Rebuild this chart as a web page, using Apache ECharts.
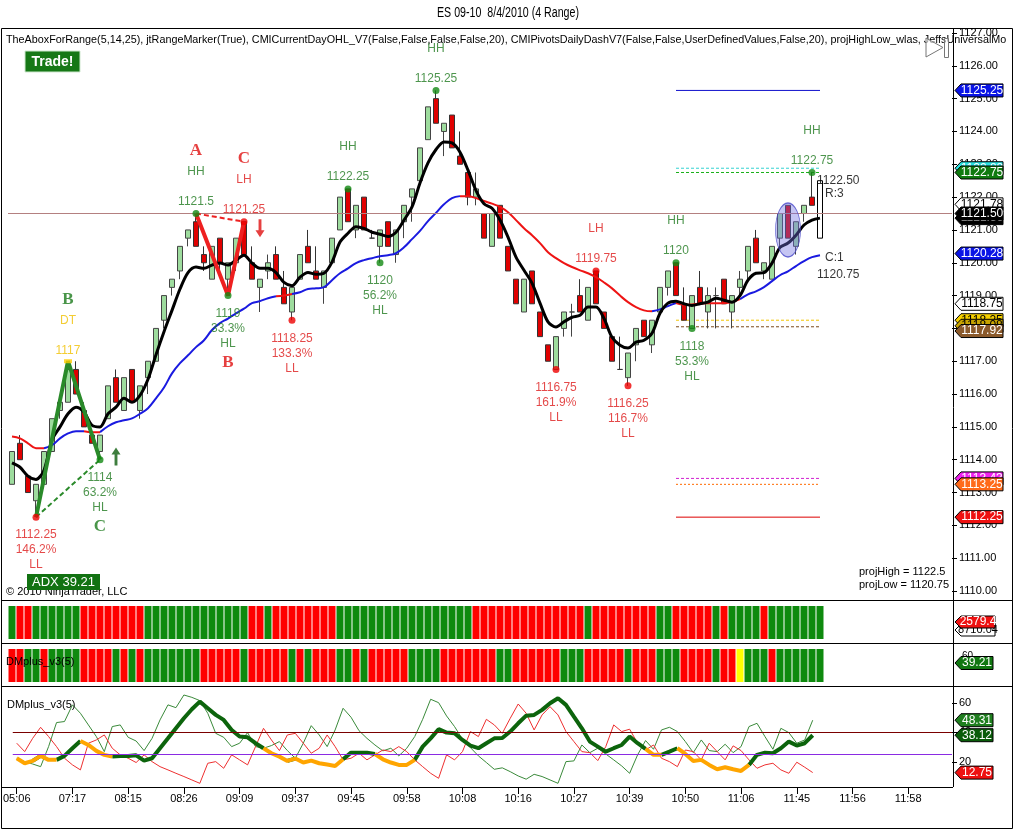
<!DOCTYPE html>
<html>
<head>
    <meta charset="utf-8">
    <title>ES 09-10 8/4/2010 (4 Range)</title>
    <script src="https://cdn.jsdelivr.net/npm/echarts@6.0.0/dist/echarts.min.js"></script>
    <style>
        html, body { margin: 0; padding: 0; background: #fff; }
        #chart { width: 1016px; height: 831px; }
    </style>
</head>
<body>
<div id="chart"></div>
<script type="text/javascript">
    // ---------- values ----------
    var timeLabels = ['05:06', '07:17', '08:15', '08:26', '09:09', '09:37', '09:45', '09:58', '10:08',
        '10:16', '10:27', '10:39', '10:50', '11:06', '11:45', '11:56', '11:58'];

    // range bars: [open, close, low, high]
    var candles = [
        [1113.25, 1114.25, 1113.25, 1114.25], [1114.5, 1114.0, 1114.0, 1114.75], [1113.5, 1113.0, 1113.0, 1113.5],
        [1112.75, 1113.25, 1112.25, 1113.25], [1113.25, 1114.25, 1113.25, 1114.25], [1114.25, 1115.25, 1114.25, 1115.25],
        [1115.5, 1115.75, 1115.25, 1115.75], [1115.75, 1116.75, 1115.75, 1117.0], [1116.75, 1116.0, 1116.0, 1117.0],
        [1115.5, 1115.0, 1115.0, 1115.75], [1114.75, 1114.5, 1114.5, 1114.75], [1114.25, 1114.75, 1114.0, 1114.75],
        [1115.25, 1116.25, 1115.25, 1116.25], [1116.5, 1115.75, 1115.75, 1116.75], [1115.5, 1116.5, 1115.5, 1116.5],
        [1116.75, 1115.75, 1115.75, 1116.75], [1115.5, 1116.25, 1115.25, 1116.25], [1116.5, 1117.0, 1116.0, 1117.0],
        [1117.0, 1118.0, 1117.0, 1118.0], [1118.25, 1119.0, 1118.0, 1119.0], [1119.25, 1119.5, 1119.0, 1119.5],
        [1119.75, 1120.5, 1119.5, 1120.5], [1120.75, 1121.0, 1120.5, 1121.0], [1121.25, 1120.5, 1120.5, 1121.5],
        [1120.25, 1120.0, 1119.75, 1120.5], [1119.5, 1120.5, 1119.5, 1120.5], [1120.75, 1120.0, 1119.75, 1120.75],
        [1119.5, 1120.0, 1119.0, 1120.0], [1120.0, 1120.75, 1119.75, 1120.75], [1121.25, 1120.25, 1120.25, 1121.25],
        [1120.0, 1119.5, 1119.5, 1120.5], [1119.25, 1119.5, 1118.5, 1119.5], [1119.75, 1120.0, 1119.5, 1120.25],
        [1120.25, 1119.5, 1119.5, 1120.5], [1119.25, 1118.75, 1118.75, 1119.75], [1118.5, 1119.25, 1118.25, 1119.25],
        [1119.5, 1120.25, 1119.5, 1120.25], [1120.5, 1120.0, 1120.0, 1121.0], [1119.75, 1119.5, 1119.5, 1120.5],
        [1119.25, 1119.75, 1118.75, 1119.75], [1120.0, 1120.75, 1120.0, 1120.75], [1121.0, 1122.0, 1121.0, 1122.0],
        [1122.25, 1121.25, 1121.25, 1122.25], [1121.0, 1121.75, 1120.75, 1121.75], [1122.0, 1121.0, 1121.0, 1122.0],
        [1120.75, 1120.75, 1120.75, 1121.0], [1120.5, 1121.0, 1120.0, 1121.0], [1121.25, 1120.5, 1120.5, 1121.25],
        [1120.25, 1121.0, 1120.0, 1121.0], [1121.25, 1121.75, 1120.75, 1121.75], [1122.0, 1122.25, 1121.25, 1122.25],
        [1122.5, 1123.5, 1122.5, 1123.5], [1123.75, 1124.75, 1123.75, 1124.75], [1125.0, 1124.25, 1124.25, 1125.25],
        [1124.0, 1124.25, 1123.25, 1124.25], [1124.5, 1123.5, 1123.5, 1124.5], [1123.25, 1123.0, 1123.0, 1124.0],
        [1122.75, 1122.0, 1121.75, 1122.75], [1122.0, 1122.25, 1121.75, 1122.75], [1121.5, 1120.75, 1120.75, 1121.5],
        [1120.5, 1121.5, 1120.5, 1121.5], [1121.75, 1120.75, 1120.75, 1121.75], [1120.5, 1119.75, 1119.75, 1120.5],
        [1119.5, 1118.75, 1118.75, 1119.5], [1118.5, 1119.5, 1118.5, 1119.5], [1119.75, 1118.75, 1118.75, 1119.75],
        [1118.5, 1117.75, 1117.75, 1118.5], [1117.5, 1117.0, 1117.0, 1117.5], [1116.75, 1117.75, 1116.75, 1117.75],
        [1118.0, 1118.5, 1117.75, 1118.5], [1118.5, 1118.5, 1117.75, 1118.75], [1119.0, 1118.5, 1118.5, 1119.5],
        [1118.25, 1119.25, 1118.25, 1119.25], [1119.75, 1118.75, 1118.75, 1119.75], [1118.5, 1118.0, 1118.0, 1118.5],
        [1117.75, 1117.0, 1117.0, 1117.75], [1116.75, 1116.75, 1116.75, 1117.75], [1116.5, 1117.25, 1116.25, 1117.25],
        [1117.5, 1118.0, 1117.0, 1118.0], [1118.25, 1117.75, 1117.75, 1118.25], [1117.5, 1118.25, 1117.25, 1118.25],
        [1118.5, 1119.25, 1118.5, 1119.25], [1119.25, 1119.75, 1119.0, 1119.75], [1120.0, 1119.0, 1119.0, 1120.0],
        [1118.75, 1118.25, 1118.25, 1119.25], [1118.0, 1119.0, 1118.0, 1119.0], [1119.25, 1118.75, 1118.75, 1119.75],
        [1118.5, 1119.0, 1118.0, 1119.25], [1119.0, 1119.0, 1118.0, 1119.25], [1119.5, 1118.75, 1118.75, 1119.5],
        [1118.5, 1119.0, 1118.0, 1119.0], [1119.25, 1119.5, 1119.0, 1119.75], [1119.75, 1120.5, 1119.5, 1120.5],
        [1120.75, 1120.0, 1120.0, 1121.0], [1119.75, 1120.0, 1119.5, 1120.0], [1119.5, 1120.5, 1119.5, 1120.5],
        [1120.75, 1121.5, 1120.5, 1121.5], [1121.75, 1120.75, 1120.75, 1121.75], [1120.5, 1121.25, 1120.25, 1121.25],
        [1121.5, 1121.75, 1121.25, 1121.75], [1122.0, 1121.75, 1121.75, 1122.75], [1120.75, 1122.5, 1120.75, 1122.5]
    ];

    var fastMA = [1113.9, 1113.77, 1113.5, 1113.4, 1113.68, 1114.6, 1115.0, 1115.4, 1115.6, 1115.45,
        1115.05, 1115.0, 1115.4, 1115.6, 1115.87, 1115.75, 1115.96, 1116.45, 1117.2, 1117.9,
        1118.55, 1119.2, 1119.7, 1119.87, 1119.83, 1119.93, 1119.99, 1119.93, 1120.08, 1120.23,
        1119.99, 1119.83, 1119.83, 1119.7, 1119.4, 1119.3, 1119.56, 1119.7, 1119.65, 1119.68,
        1120.02, 1120.63, 1120.9, 1121.1, 1121.05, 1120.93, 1120.87, 1120.8, 1120.93, 1121.3,
        1121.7, 1122.43, 1123.04, 1123.45, 1123.68, 1123.65, 1123.37, 1122.82, 1122.2, 1121.8,
        1121.66, 1121.3, 1120.78, 1120.17, 1119.77, 1119.38, 1118.77, 1118.2, 1118.04, 1118.2,
        1118.34, 1118.4, 1118.65, 1118.65, 1118.3, 1117.73, 1117.49, 1117.4, 1117.58, 1117.64,
        1117.85, 1118.46, 1118.77, 1118.83, 1118.75, 1118.7, 1118.75, 1118.8, 1118.92, 1118.86,
        1118.8, 1119.0, 1119.47, 1119.68, 1119.7, 1119.99, 1120.47, 1120.6, 1120.84, 1121.15,
        1121.3, 1121.36];

    var slowMA = [1114.71, 1114.65, 1114.5, 1114.35, 1114.35, 1114.44, 1114.65, 1114.8, 1114.87, 1114.87,
        1114.84, 1114.84, 1115.02, 1115.14, 1115.2, 1115.26, 1115.4, 1115.57, 1115.87, 1116.2,
        1116.63, 1116.94, 1117.18, 1117.43, 1117.64, 1117.95, 1118.16, 1118.3, 1118.46, 1118.6,
        1118.77, 1118.83, 1118.92, 1118.98, 1119.0, 1119.05, 1119.1, 1119.2, 1119.22, 1119.26,
        1119.47, 1119.68, 1119.83, 1119.99, 1120.08, 1120.14, 1120.2, 1120.23, 1120.29, 1120.47,
        1120.72, 1120.97, 1121.27, 1121.52, 1121.78, 1121.97, 1122.03, 1122.03, 1121.97, 1121.88,
        1121.8, 1121.7, 1121.54, 1121.3, 1121.05, 1120.84, 1120.6, 1120.32, 1120.14, 1119.99,
        1119.87, 1119.77, 1119.68, 1119.56, 1119.4, 1119.22, 1119.0, 1118.8, 1118.65, 1118.55,
        1118.52, 1118.58, 1118.68, 1118.77, 1118.72, 1118.73, 1118.76, 1118.77, 1118.77, 1118.77,
        1118.8, 1118.89, 1119.04, 1119.13, 1119.26, 1119.44, 1119.62, 1119.74, 1119.9, 1120.05,
        1120.17, 1120.23];
    // bar ranges where the slow average is painted red instead of blue
    var slowRedSpans = [[0, 4], [9, 11], [33, 35], [56, 80], [83, 91]];

    // swing points
    var pivotIdx = [3, 7, 11, 23, 27, 29, 35, 42, 46, 53, 68, 73, 77, 83, 85, 100];
    var pivotPrice = [1112.25, 1117, 1114, 1121.5, 1119, 1121.25, 1118.25, 1122.25, 1120, 1125.25,
        1116.75, 1119.75, 1116.25, 1120, 1118, 1122.75];
    var pivotPct = ['146.2%', '', '63.2%', '', '33.3%', '', '133.3%', '', '56.2%', '', '161.9%', '',
        '116.7%', '', '53.3%', ''];
    var pivotTag = ['LL', 'DT', 'HL', 'HH', 'HL', 'LH', 'LL', 'HH', 'HL', 'HH', 'LL', 'LH', 'LL', 'HH', 'HL', 'HH'];
    var pivotLetter = ['', 'B', 'C', 'A', 'B', 'C', '', '', '', '', '', '', '', '', '', ''];

    // ABC patterns
    var abcUpIdx = [3, 7, 11], abcUpPx = [1112.25, 1117, 1114];
    var abcDnIdx = [23, 27, 29], abcDnPx = [1121.5, 1119, 1121.25];

    // entry arrows
    var signalIdx = [13, 31], signalPx = [1114.1, 1121.05], signalDir = ['up', 'down'];

    // ellipse marker
    var focusBar = 96.5, focusPx = 1121.0;

    // daily levels drawn on the right
    var levelPrices = [1125.25, 1122.88, 1122.75, 1118.25, 1118.05, 1113.43, 1113.25, 1112.25];
    var levelFrom = 83, levelTo = 101;

    // price tags on the right axis
    var priceFlags = [1125.25, 1122.88, 1122.75, 1121.78, 1121.36, 1121.50, 1120.28, 1118.75, 1118.25,
        1118.08, 1117.92, 1113.43, 1113.25, 1112.25];

    var projHigh = 1122.5, projLow = 1120.75;

    // colour bars of the two middle panels (g = green, r = red, y = yellow)
    var trendBars = ('grrggggggrrrrrrrrgggggggggggggrrgrrrrrrrrgggggggggggggggggrrrrrrrrrrrrrrgrrrrrrrrggrrrrrgrggggrggggggg').split('');
    var dmBars = ('rrggrggggrrrrgrgrgggggggrrrrrgrrrrrgrgrrrggrgrrrrrggggrrrrrrrggrrrrrrgggrrrrrgrrrgggrrrrgrrygggrgggggg').split('');

    // DMplus_v3(5)
    var adx = [22.5, 19.1, 20.7, 24.1, 21.4, 21.4, 24.1, 29.3, 34.2, 31.5, 27.5, 24.8, 23.6, 24.1, 24.1, 24.5,
        20.9, 22.5, 29.3, 36.0, 42.8, 49.6, 55.7, 60.9, 56.4, 51.9, 48.5, 41.7, 37.2, 36.7, 32.7, 29.3,
        25.9, 23.6, 20.7, 22.3, 19.6, 20.9, 19.1, 18.2, 17.3, 21.8, 26.3, 26.3, 26.3, 25.4, 21.8, 19.6,
        18.0, 18.0, 21.4, 30.4, 36.0, 42.2, 39.9, 39.4, 34.9, 31.1, 29.3, 32.7, 36.0, 36.2, 40.6, 46.2,
        51.4, 51.9, 55.3, 59.8, 63.2, 58.7, 50.7, 42.8, 33.8, 30.4, 27.0, 29.3, 31.5, 37.2, 32.7, 28.8,
        24.8, 24.8, 27.0, 29.3, 25.4, 20.7, 21.4, 18.0, 15.0, 16.4, 15.0, 13.9, 18.0, 24.8, 26.3, 25.9,
        29.3, 33.8, 31.1, 32.7, 38.1];
    var diPlus = [22.5, 20.2, 18.6, 16.8, 30.4, 46.7, 47.4, 58.7, 53.0, 45.1, 37.2, 27.0, 44.0, 45.1, 36.7, 34.2,
        27.7, 36.0, 48.5, 58.7, 56.8, 65.4, 63.8, 61.6, 53.0, 39.4, 36.7, 30.4, 32.7, 39.9, 30.4, 29.3,
        31.1, 33.8, 27.7, 22.5, 32.7, 44.6, 38.3, 30.4, 41.7, 56.4, 50.3, 41.2, 36.0, 31.5, 27.5, 29.3,
        24.1, 29.3, 37.2, 48.9, 62.5, 60.2, 51.2, 44.0, 35.4, 29.7, 24.1, 19.6, 15.0, 16.0, 13.4, 10.5,
        8.3, 11.6, 10.1, 7.8, 5.5, 20.2, 20.7, 31.5, 26.3, 29.3, 25.4, 21.4, 17.3, 12.3, 24.8, 34.5,
        28.6, 41.7, 43.5, 40.6, 33.8, 26.3, 34.9, 27.7, 27.0, 32.0, 26.3, 30.4, 44.0, 46.2, 37.2, 28.6,
        42.8, 39.9, 32.7, 34.9, 48.3];
    var diMinus = [32.7, 27.0, 36.0, 43.5, 37.2, 30.4, 22.5, 18.0, 14.6, 32.7, 34.9, 38.3, 29.3, 24.8, 22.5, 19.6,
        24.8, 20.2, 16.8, 14.6, 12.3, 10.1, 7.8, 5.5, 19.1, 20.2, 15.7, 24.8, 21.4, 18.0, 30.4, 42.8,
        34.9, 27.7, 38.3, 39.4, 32.7, 25.9, 29.3, 38.3, 30.4, 21.4, 22.5, 25.9, 21.4, 24.8, 28.1, 27.0,
        30.4, 27.0, 21.4, 16.8, 12.3, 8.9, 24.8, 21.4, 27.0, 40.6, 37.2, 48.9, 45.1, 39.4, 49.6, 59.3,
        53.0, 41.7, 51.9, 57.5, 51.9, 40.6, 33.8, 27.0, 26.3, 20.9, 30.4, 45.1, 40.6, 42.2, 32.7, 28.1,
        31.5, 22.5, 20.2, 16.8, 28.1, 27.0, 21.4, 32.7, 27.0, 21.4, 30.9, 27.7, 21.4, 15.7, 18.0, 19.1,
        14.6, 12.3, 19.8, 16.4, 12.8];
    // bar ranges where the thick line is orange
    var adxOrangeSpans = [[0, 2], [3, 5], [8, 12], [31, 34], [35, 41], [45, 50], [79, 81], [83, 92]];
    var dmLevels = [40, 25];
    var dmFlags = [48.31, 38.12, 12.75];

    // ---------- chart ----------
    var FONT = '"Liberation Sans", Arial, sans-serif';
    var SERIF = '"Liberation Serif", "DejaVu Serif", serif';
    var txtGreen = '#217a21', txtRed = '#dd1c1c', txtGold = '#f0c000';

    var slotCount = 118;
    var categories = [];
    for (var s = 0; s < slotCount; s++) categories.push(String(s));

    function inSpans(i, spans, strict) {
        for (var k = 0; k < spans.length; k++) {
            var a = spans[k][0], b = spans[k][1];
            if (strict ? (i > a && i < b) : (i >= a && i <= b)) return true;
        }
        return false;
    }
    function indexed(arr, keep) {
        return arr.map(function (v, i) { return keep(i) ? [i, v] : [i, null]; });
    }

    var myChart = echarts.init(document.getElementById('chart'));

    var candleData = candles.map(function (c, i) {
        if (i === candles.length - 1) {
            return {value: c, itemStyle: {color: '#fff', color0: '#fff', borderColor: '#000', borderColor0: '#000'}};
        }
        return c;
    });

    // swing point dots and their text
    var pivotData = [];
    for (var k = 0; k < pivotIdx.length; k++) {
        var tag = pivotTag[k];
        var isHigh = (tag === 'HH' || tag === 'LH' || tag === 'DT');
        var tone = tag === 'DT' ? txtGold : ((tag === 'HH' || tag === 'HL') ? txtGreen : txtRed);
        var dot = tag === 'DT' ? '#ffcc00' : ((tag === 'HH' || tag === 'HL') ? '#118811' : '#ee0000');
        var letterTone = abcUpIdx.indexOf(pivotIdx[k]) >= 0 ? '#1c7a1c' : '#e01010';
        var lines;
        if (isHigh) {
            lines = [];
            if (pivotLetter[k]) lines.push('{L|' + pivotLetter[k] + '}');
            lines.push('{t|' + tag + '}', '{t| }', '{t|' + pivotPrice[k] + '}');
        } else {
            lines = ['{t|' + pivotPrice[k] + '}', '{t|' + pivotPct[k] + '}', '{t|' + tag + '}'];
            if (pivotLetter[k]) lines.push('{L|' + pivotLetter[k] + '}');
        }
        pivotData.push({
            value: [pivotIdx[k], pivotPrice[k]],
            symbol: tag === 'DT' ? 'rect' : 'circle',
            symbolSize: tag === 'DT' ? [8, 4] : 7,
            itemStyle: {color: dot},
            label: {
                show: true,
                position: isHigh ? 'top' : 'bottom',
                distance: isHigh ? 1 : 7,
                formatter: lines.join('\n'),
                rich: {
                    t: {color: tone, fontSize: 12, lineHeight: 15, fontFamily: FONT},
                    L: {color: letterTone, fontSize: 17, fontWeight: 'bold', fontFamily: SERIF, lineHeight: isHigh ? 27 : 23}
                }
            }
        });
    }

    var levelStyles = [
        {color: '#1010cc', type: 'solid'}, {color: '#33d2d2', type: [3, 2]}, {color: '#18b018', type: [3, 2]},
        {color: '#f2c400', type: [3, 2]}, {color: '#7a4a1a', type: [3, 2]}, {color: '#d020d0', type: [3, 2]},
        {color: '#ff6a00', type: [2, 2]}, {color: '#dd0000', type: 'solid'}
    ];
    var flagFill = ['#0a14e6', '#28e0e0', '#0f7a0f', '#ffffff', '#000000', '#000000', '#0a14e6', '#ffffff',
        '#f5d000', '#c8a400', '#8b5a2b', '#f020f0', '#ff6a1a', '#ee1111'];
    var flagInk = ['#fff', '#fff', '#fff', '#000', '#fff', '#fff', '#fff', '#000', '#000', '#000', '#fff', '#fff', '#fff', '#fff'];
    var dmFlagFill = ['#1f7f1f', '#0a5c0a', '#ee1111'];

    function flagRenderer(values, fills, inks, width) {
        return function (params, api) {
            var i = params.dataIndex;
            var y = api.coord([0, api.value(1)])[1];
            var x = params.coordSys.x + params.coordSys.width + 3;
            return {
                type: 'group',
                children: [{
                    type: 'polygon',
                    shape: {points: [[x, y], [x + 6, y - 6.5], [x + width, y - 6.5], [x + width, y + 6.5], [x + 6, y + 6.5]]},
                    style: {fill: fills[i], stroke: '#000', lineWidth: 1}
                }, {
                    type: 'text',
                    style: {
                        text: values[i].toFixed(2), x: x + 6 + (width - 6) / 2, y: y,
                        textAlign: 'center', textVerticalAlign: 'middle', fill: inks[i], font: '12px ' + FONT
                    }
                }]
            };
        };
    }

    var series = [
        {
            type: 'candlestick', xAxisIndex: 0, yAxisIndex: 0, data: candleData, barWidth: 6,
            itemStyle: {color: '#9edc9e', color0: '#e00000', borderColor: '#444', borderColor0: '#333', borderWidth: 1},
            markLine: {
                silent: true, symbol: ['none', 'none'], label: {show: false},
                lineStyle: {color: '#b48080', width: 1, type: 'solid'},
                data: [{yAxis: 1121.5}]
            },
            z: 3
        },
        {
            type: 'line', xAxisIndex: 0, yAxisIndex: 0, smooth: 0.4, showSymbol: false,
            data: indexed(slowMA, function (i) { return !inSpans(i, slowRedSpans, true); }),
            lineStyle: {color: '#1a1ae0', width: 2}, z: 4
        },
        {
            type: 'line', xAxisIndex: 0, yAxisIndex: 0, smooth: 0.4, showSymbol: false,
            data: indexed(slowMA, function (i) { return inSpans(i, slowRedSpans, false); }),
            lineStyle: {color: '#ee1414', width: 2}, z: 4
        },
        {
            type: 'line', xAxisIndex: 0, yAxisIndex: 0, smooth: 0.3, showSymbol: false,
            data: fastMA.map(function (v, i) { return [i, v]; }),
            lineStyle: {color: '#000', width: 3}, z: 5
        }
    ];

    levelPrices.forEach(function (v, i) {
        series.push({
            type: 'line', xAxisIndex: 0, yAxisIndex: 0, showSymbol: false, silent: true,
            data: [[levelFrom, v], [levelTo, v]],
            lineStyle: {color: levelStyles[i].color, type: levelStyles[i].type, width: 1}, z: 3
        });
    });

    // ABC pattern legs
    series.push(
        {
            type: 'line', xAxisIndex: 0, yAxisIndex: 0, showSymbol: false,
            data: [[abcUpIdx[0], abcUpPx[0]], [abcUpIdx[2], abcUpPx[2]]],
            lineStyle: {color: '#2a8a2a', width: 2, type: [5, 3]}, z: 6
        },
        {
            type: 'line', xAxisIndex: 0, yAxisIndex: 0, showSymbol: false,
            data: abcUpIdx.map(function (x, i) { return [x, abcUpPx[i]]; }),
            lineStyle: {color: '#2a8a2a', width: 4}, z: 6
        },
        {
            type: 'line', xAxisIndex: 0, yAxisIndex: 0, showSymbol: false,
            data: [[abcDnIdx[0], abcDnPx[0]], [abcDnIdx[2], abcDnPx[2]]],
            lineStyle: {color: '#ee2020', width: 2, type: [5, 3]}, z: 6
        },
        {
            type: 'line', xAxisIndex: 0, yAxisIndex: 0, showSymbol: false,
            data: abcDnIdx.map(function (x, i) { return [x, abcDnPx[i]]; }),
            lineStyle: {color: '#ee2020', width: 4}, z: 6
        },
        {
            type: 'scatter', xAxisIndex: 0, yAxisIndex: 0, data: pivotData, z: 7
        },
        {
            type: 'scatter', xAxisIndex: 0, yAxisIndex: 0, z: 7,
            symbol: 'path://M5,0L10,7L6.6,7L6.6,18L3.4,18L3.4,7L0,7Z', symbolSize: [9, 18],
            data: signalIdx.map(function (x, i) {
                return {
                    value: [x, signalPx[i]],
                    symbolRotate: signalDir[i] === 'down' ? 180 : 0,
                    itemStyle: {color: signalDir[i] === 'down' ? '#e01010' : '#0e5e0e'}
                };
            })
        },
        {
            type: 'scatter', xAxisIndex: 0, yAxisIndex: 0, z: 8,
            symbol: 'circle', symbolSize: [25, 54],
            data: [[focusBar, focusPx]],
            itemStyle: {color: 'rgba(110,110,225,0.5)', borderColor: '#4848c8', borderWidth: 1}
        },
        {
            type: 'scatter', xAxisIndex: 0, yAxisIndex: 0, z: 8, symbolSize: 0.1,
            itemStyle: {color: 'rgba(0,0,0,0)'},
            label: {show: true, position: 'right', distance: 5, color: '#000', fontSize: 12, fontFamily: FONT},
            data: [
                {value: [candles.length - 2, projHigh], label: {formatter: projHigh.toFixed(2)}},
                {value: [candles.length - 1, projHigh], label: {formatter: 'R:3', offset: [0, 13]}},
                {value: [candles.length - 1, projLow], label: {formatter: 'C:1', offset: [0, 20]}},
                {value: [candles.length - 2, projLow], label: {formatter: projLow.toFixed(2), offset: [0, 37]}}
            ]
        },
        {
            type: 'custom', xAxisIndex: 0, yAxisIndex: 0, clip: false, z: 10,
            renderItem: flagRenderer(priceFlags, flagFill, flagInk, 48),
            data: priceFlags.map(function (v) { return [0, v]; })
        }
    );

    // colour bar panels
    function colourOf(c) {
        return c === 'g' ? '#0e8a0e' : (c === 'y' ? '#ffff00' : '#ff0000');
    }
    series.push(
        {
            type: 'bar', xAxisIndex: 1, yAxisIndex: 1, barWidth: 7, silent: true,
            data: trendBars.map(function (c) { return {value: 1, itemStyle: {color: colourOf(c)}}; })
        },
        {
            type: 'bar', xAxisIndex: 2, yAxisIndex: 2, barWidth: 7, silent: true,
            data: dmBars.map(function (c) { return {value: 1, itemStyle: {color: colourOf(c)}}; })
        }
    );

    // DMplus panel
    series.push(
        {
            type: 'line', xAxisIndex: 3, yAxisIndex: 3, showSymbol: false,
            data: diPlus.map(function (v, i) { return [i, v]; }),
            lineStyle: {color: '#3a8a3a', width: 1},
            markLine: {
                silent: true, symbol: ['none', 'none'], label: {show: false},
                data: [
                    {yAxis: dmLevels[0], lineStyle: {color: '#7a0000', width: 1, type: 'solid'}},
                    {yAxis: dmLevels[1], lineStyle: {color: '#8a2be2', width: 1, type: 'solid'}}
                ]
            }
        },
        {
            type: 'line', xAxisIndex: 3, yAxisIndex: 3, showSymbol: false,
            data: diMinus.map(function (v, i) { return [i, v]; }),
            lineStyle: {color: '#ee3030', width: 1}
        },
        {
            type: 'line', xAxisIndex: 3, yAxisIndex: 3, showSymbol: false,
            data: indexed(adx, function (i) { return !inSpans(i, adxOrangeSpans, true); }),
            lineStyle: {color: '#0c640c', width: 4}, z: 4
        },
        {
            type: 'line', xAxisIndex: 3, yAxisIndex: 3, showSymbol: false,
            data: indexed(adx, function (i) { return inSpans(i, adxOrangeSpans, false); }),
            lineStyle: {color: '#ffa500', width: 4}, z: 4
        },
        {
            type: 'custom', xAxisIndex: 3, yAxisIndex: 3, clip: false, z: 10,
            renderItem: flagRenderer(dmFlags, dmFlagFill, ['#fff', '#fff', '#fff'], 38),
            data: dmFlags.map(function (v) { return [0, v]; })
        }
    );

    function xAxisFor(g, visible) {
        return {
            type: 'category', gridIndex: g, data: categories, boundaryGap: true,
            axisLine: {show: false},
            axisTick: {show: visible, interval: 6, alignWithLabel: true, length: 7, lineStyle: {color: '#000'}},
            axisLabel: {
                show: visible, interval: 6, margin: 6, color: '#000', fontSize: 11, fontFamily: FONT,
                formatter: function (v, idx) { return timeLabels[idx / 7] || ''; }
            },
            splitLine: {show: false}
        };
    }

    var priceTicks = [1110, 1111, 1112, 1113, 1114, 1115, 1116, 1117, 1118, 1119, 1120, 1121, 1122, 1123, 1124, 1125, 1126, 1127];

    var option = {
        animation: false,
        backgroundColor: '#fff',
        textStyle: {fontFamily: FONT},
        grid: [
            {left: 8, right: 64, top: 28, height: 572},
            {left: 8, right: 64, top: 606, height: 33},
            {left: 8, right: 64, top: 649, height: 33},
            {left: 8, right: 64, top: 686, height: 101}
        ],
        xAxis: [xAxisFor(0, false), xAxisFor(1, false), xAxisFor(2, false), xAxisFor(3, true)],
        yAxis: [
            {
                type: 'value', gridIndex: 0, position: 'right', min: 1109.726, max: 1127.152,
                axisLine: {show: false}, splitLine: {show: false},
                axisTick: {show: true, length: 5, lineStyle: {color: '#000'}, customValues: priceTicks},
                axisLabel: {color: '#000', fontSize: 11, margin: 7, fontFamily: FONT, customValues: priceTicks,
                    formatter: function (v) { return v.toFixed(2); }}
            },
            {type: 'value', gridIndex: 1, min: 0, max: 1, show: false},
            {type: 'value', gridIndex: 2, min: 0, max: 1, show: false},
            {
                type: 'value', gridIndex: 3, position: 'right', min: 3, max: 71.5,
                axisLine: {show: false}, splitLine: {show: false},
                axisTick: {show: true, length: 5, lineStyle: {color: '#000'}, customValues: [20, 40, 60]},
                axisLabel: {color: '#000', fontSize: 11, margin: 7, fontFamily: FONT, customValues: [20, 40, 60]}
            }
        ],
        series: series,
        graphic: [
            {type: 'text', x: 508, y: 13, scaleX: 0.76, style: {text: 'ES 09-10  8/4/2010 (4 Range)', font: '14px ' + FONT, fill: '#000', textAlign: 'center', textVerticalAlign: 'middle'}},
            {type: 'rect', shape: {x: 1.5, y: 28.5, width: 1011, height: 800}, style: {fill: null, stroke: '#000', lineWidth: 1}},
            {type: 'line', shape: {x1: 1, y1: 600.5, x2: 1013, y2: 600.5}, style: {stroke: '#000', lineWidth: 1}},
            {type: 'line', shape: {x1: 1, y1: 643.5, x2: 1013, y2: 643.5}, style: {stroke: '#000', lineWidth: 1}},
            {type: 'line', shape: {x1: 1, y1: 686.5, x2: 1013, y2: 686.5}, style: {stroke: '#000', lineWidth: 1}},
            {type: 'line', shape: {x1: 953.5, y1: 28, x2: 953.5, y2: 787}, style: {stroke: '#000', lineWidth: 1}},
            {type: 'line', shape: {x1: 1, y1: 787.5, x2: 953, y2: 787.5}, style: {stroke: '#000', lineWidth: 1}},
            {type: 'text', x: 6, y: 40, z: 100, scaleX: 0.98, style: {text: 'TheAboxForRange(5,14,25), jtRangeMarker(True), CMICurrentDayOHL_V7(False,False,False,False,20), CMIPivotsDailyDashV7(False,False,UserDefinedValues,False,20), projHighLow_wlas, JeffsUniversalMo', font: '11px ' + FONT, fill: '#000', textVerticalAlign: 'middle'}},
            {type: 'polygon', z: 100, shape: {points: [[926, 38], [943, 47.5], [926, 57]]}, style: {fill: 'rgba(255,255,255,0.6)', stroke: '#777', lineWidth: 1}},
            {type: 'rect', z: 100, shape: {x: 944.5, y: 38.5, width: 4, height: 19}, style: {fill: 'rgba(255,255,255,0.6)', stroke: '#777', lineWidth: 1}},
            {type: 'rect', z: 100, shape: {x: 25, y: 51, width: 55, height: 21}, style: {fill: '#167816', stroke: '#cfe8cf', lineWidth: 1}},
            {type: 'text', z: 101, x: 52.5, y: 62, style: {text: 'Trade!', font: 'bold 14px ' + FONT, fill: '#fff', textAlign: 'center', textVerticalAlign: 'middle'}},
            {type: 'text', z: 99, x: 6, y: 592, style: {text: '\u00a9 2010 NinjaTrader, LLC', font: '11px ' + FONT, fill: '#000', textVerticalAlign: 'middle'}},
            {type: 'rect', z: 100, shape: {x: 27, y: 574, width: 73, height: 16}, style: {fill: '#127212'}},
            {type: 'text', z: 101, x: 63.5, y: 582, style: {text: 'ADX 39.21', font: '13px ' + FONT, fill: '#fff', textAlign: 'center', textVerticalAlign: 'middle'}},
            {type: 'text', z: 100, x: 859, y: 572, style: {text: 'projHigh = 1122.5', font: '11px ' + FONT, fill: '#000', textVerticalAlign: 'middle'}},
            {type: 'text', z: 100, x: 859, y: 585, style: {text: 'projLow = 1120.75', font: '11px ' + FONT, fill: '#000', textVerticalAlign: 'middle'}},
            {type: 'text', z: 100, x: 6, y: 662, style: {text: 'DMplus_v3(5)', font: '11px ' + FONT, fill: '#000', textVerticalAlign: 'middle'}},
            {type: 'text', z: 100, x: 7, y: 705, style: {text: 'DMplus_v3(5)', font: '11px ' + FONT, fill: '#000', textVerticalAlign: 'middle'}},
            {type: 'polygon', z: 100, shape: {points: [[955, 630], [961, 624], [995, 624], [995, 636], [961, 636]]}, style: {fill: '#fff', stroke: '#000', lineWidth: 1}},
            {type: 'text', z: 100, x: 978, y: 630, style: {text: '8710.04', font: '11px ' + FONT, fill: '#000', textAlign: 'center', textVerticalAlign: 'middle'}},
            {type: 'polygon', z: 101, shape: {points: [[955, 622], [961, 616], [995, 616], [995, 628], [961, 628]]}, style: {fill: '#ee1111', stroke: '#000', lineWidth: 1}},
            {type: 'text', z: 101, x: 978, y: 622, style: {text: '2579.4', font: '12px ' + FONT, fill: '#fff', textAlign: 'center', textVerticalAlign: 'middle'}},
            {type: 'text', z: 100, x: 962, y: 656, style: {text: '60', font: '10px ' + FONT, fill: '#000', textVerticalAlign: 'middle'}},
            {type: 'polygon', z: 101, shape: {points: [[955, 663], [961, 656.5], [993, 656.5], [993, 669.5], [961, 669.5]]}, style: {fill: '#117711', stroke: '#000', lineWidth: 1}},
            {type: 'text', z: 101, x: 977, y: 663, style: {text: '39.21', font: '12px ' + FONT, fill: '#fff', textAlign: 'center', textVerticalAlign: 'middle'}}
        ]
    };

    myChart.setOption(option);
</script>
</body>
</html>
